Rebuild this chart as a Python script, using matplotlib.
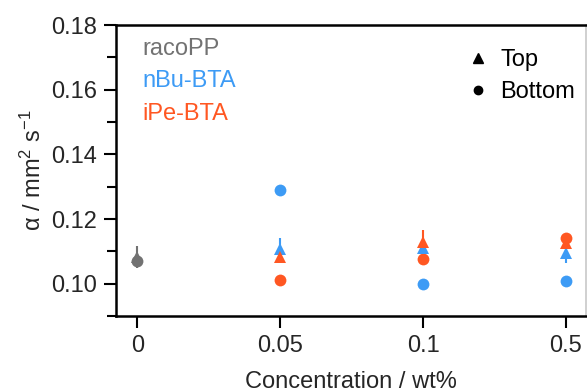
import matplotlib
matplotlib.use("Agg")
import matplotlib.pyplot as plt
from matplotlib.lines import Line2D

plt.rcParams['font.family'] = ['Liberation Sans', 'DejaVu Sans']
plt.rcParams['mathtext.fontset'] = 'custom'
plt.rcParams['mathtext.rm'] = 'Liberation Sans'
plt.rcParams['mathtext.it'] = 'Liberation Sans:italic'

# Concentration categories (plotted at evenly spaced positions)
concentrations = ["0", "0.05", "0.1", "0.5"]

# racoPP reference (only at 0 wt%)
raco_top = [0.1082]
raco_top_err = [0.0034]
raco_bottom = [0.1070]

# nBu-BTA
nbu_top = [0.1106, 0.1110, 0.1095]
nbu_top_err = [0.0035, 0.0025, 0.0030]
nbu_bottom = [0.1290, 0.0998, 0.1007]

# iPe-BTA
ipe_top = [0.1083, 0.1129, 0.1126]
ipe_top_err = [0.0020, 0.0036, 0.0020]
ipe_bottom = [0.1010, 0.1076, 0.1141]

gray = "#727272"
blue = "#3d9bf5"
orange = "#ff5722"
text_col = "#262626"
fs = 17

fig = plt.figure(figsize=(5.87, 3.92), dpi=100)
ax = fig.add_axes([116/587, 76/392, 470/587, 291/392])

ms = 8.5
def series(xs, top, top_err, bottom, color):
    ax.errorbar(xs, top, yerr=top_err, fmt='^', color=color, ms=ms,
                elinewidth=1.5, capsize=0, mew=0)
    ax.plot(xs, bottom, 'o', color=color, ms=ms, mew=0)

series([0], raco_top, raco_top_err, raco_bottom, gray)
series([1, 2, 3], nbu_top, nbu_top_err, nbu_bottom, blue)
series([1, 2, 3], ipe_top, ipe_top_err, ipe_bottom, orange)

ax.set_xlim(-0.15, 3.14)
ax.set_ylim(0.09, 0.18)
ax.set_xticks(range(len(concentrations)))
ax.set_xticklabels(concentrations)
ax.set_yticks([0.10, 0.12, 0.14, 0.16, 0.18])
ax.set_yticks([0.09, 0.11, 0.13, 0.15, 0.17], minor=True)
ax.yaxis.set_major_formatter(matplotlib.ticker.FormatStrFormatter('%.2f'))

ax.tick_params(axis='both', which='major', length=8.6, width=1.5, labelsize=fs,
               colors='black', labelcolor=text_col)
ax.tick_params(axis='y', which='major', pad=5)
ax.tick_params(axis='x', which='major', pad=5)
ax.tick_params(axis='y', which='minor', length=6.5, width=1.5)
for side in ['left', 'bottom', 'top']:
    ax.spines[side].set_linewidth(1.8)
ax.spines['right'].set_linewidth(1.2)
ax.spines['right'].set_color('#c8c8c8')

ax.set_xlabel("Concentration / wt%", fontsize=fs, color=text_col, labelpad=10.5)
ax.set_ylabel(r"α / mm$^2$ s$^{-1}$", fontsize=fs, color=text_col, labelpad=4)

# Sample labels
for i, (name, col) in enumerate([("racoPP", gray), ("nBu-BTA", blue), ("iPe-BTA", orange)]):
    ax.text(0.057, 0.918 - i * 0.112, name, color=col, fontsize=fs,
            transform=ax.transAxes, ha='left', va='center')

handles = [Line2D([], [], marker='^', color='black', ls='none', ms=7),
           Line2D([], [], marker='o', color='black', ls='none', ms=6)]
ax.legend(handles, ["Top", "Bottom"], loc='upper right', frameon=False,
          fontsize=fs, handletextpad=0.2, borderaxespad=0.3, labelspacing=0.45,
          handlelength=1.5, bbox_to_anchor=(1.012, 0.975))

fig.savefig("out.png", dpi=100)
